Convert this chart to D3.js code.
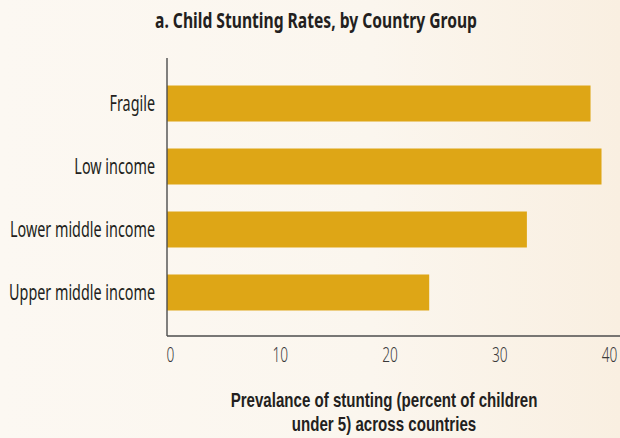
<!DOCTYPE html>
<html>
<head>
<meta charset="utf-8">
<script src="https://cdn.jsdelivr.net/npm/d3@7"></script>
<style>
  html, body { margin: 0; padding: 0; }
  body { width: 620px; height: 438px; overflow: hidden; }
  text { font-family: "Noto Sans", "Open Sans", sans-serif; fill: #231f20; }
</style>
</head>
<body>
<svg id="chart" width="620" height="438"></svg>
<script>
// data
const groups = ["Fragile", "Low income", "Lower middle income", "Upper middle income"];
const stunting = [38.5, 39.5, 32.7, 23.8];
const xTicks = [0, 10, 20, 30, 40];

const width = 620, height = 438;
const plotLeft = 167, plotTop = 60, plotBottom = 336;

const svg = d3.select("#chart");

// squeeze text horizontally (the original uses a condensed face)
function squeeze(sel, k, ax) {
  sel.attr("transform", "translate(" + ax + ",0) scale(" + k + ",1) translate(" + (-ax) + ",0)");
}

// background gradient
const defs = svg.append("defs");
const grad = defs.append("linearGradient").attr("id", "bg").attr("x1", "0").attr("x2", "1").attr("y1", "0").attr("y2", "0");
grad.append("stop").attr("offset", "0").attr("stop-color", "#fcf8f2");
grad.append("stop").attr("offset", "0.6").attr("stop-color", "#fbf6ee");
grad.append("stop").attr("offset", "1").attr("stop-color", "#f9efe1");
svg.append("rect").attr("width", width).attr("height", height).attr("fill", "url(#bg)");

const x = d3.scaleLinear().domain([0, 40]).range([168, 607]);
const y = d3.scaleBand().domain(groups).range([plotTop, plotBottom]).paddingInner(0.4286).paddingOuter(0.405);

// title
const title = svg.append("text")
  .attr("x", 316).attr("y", 28)
  .attr("text-anchor", "middle")
  .style("font-weight", "bold").style("font-size", "22px")
  .text("a. Child Stunting Rates, by Country Group");
squeeze(title, 322 / title.node().getComputedTextLength(), 316);

// bars
svg.append("g")
  .selectAll("rect")
  .data(groups).enter()
  .append("rect")
  .attr("x", plotLeft)
  .attr("y", function (d) { return y(d); })
  .attr("width", function (d, i) { return x(stunting[i]) - plotLeft; })
  .attr("height", y.bandwidth())
  .style("fill", "#dea616");

// category labels
const labels = svg.append("g")
  .selectAll("text")
  .data(groups).enter()
  .append("text")
  .attr("x", 155)
  .attr("y", function (d) { return y(d) + y.bandwidth() / 2; })
  .attr("dy", "0.36em")
  .attr("text-anchor", "end")
  .style("font-size", "21px")
  .text(function (d) { return d; });
var widest = d3.max(labels.nodes(), function (n) { return n.getComputedTextLength(); });
const kLab = 146 / widest;
squeeze(labels, kLab, 155);

// axis lines
svg.append("line")
  .attr("x1", plotLeft).attr("x2", plotLeft)
  .attr("y1", plotTop - 2).attr("y2", plotBottom)
  .style("stroke", "#4d4d4d").style("stroke-width", 1.4);
svg.append("line")
  .attr("x1", plotLeft).attr("x2", width)
  .attr("y1", plotBottom).attr("y2", plotBottom)
  .style("stroke", "#4d4d4d").style("stroke-width", 1.4);

// x tick labels
const xAxis = svg.append("g")
  .attr("transform", "translate(2," + plotBottom + ")")
  .call(d3.axisBottom(x).tickValues(xTicks).tickSize(0).tickPadding(12).tickFormat(d3.format("d")));
xAxis.select(".domain").remove();
xAxis.selectAll("text")
  .attr("dy", "0.72em")
  .style("font-family", "\"Noto Sans\", \"Open Sans\", sans-serif")
  .style("font-weight", "300")
  .style("font-size", "20px").style("fill", "#3a3a3a")
  .attr("transform", "scale(" + kLab + ",1)");

// axis title (two lines)
const titleLines = ["Prevalance of stunting (percent of children", "under 5) across countries"];
const xTitle = svg.append("g");
const tl = xTitle.selectAll("text")
  .data(titleLines).enter()
  .append("text")
  .attr("x", 384)
  .attr("y", function (d, i) { return 407 + i * 24; })
  .attr("text-anchor", "middle")
  .style("font-family", "\"Liberation Sans\", Arial, sans-serif")
  .style("font-weight", "bold").style("font-size", "20px")
  .text(function (d) { return d; });
squeeze(tl, 307 / tl.node().getComputedTextLength(), 384);
</script>
</body>
</html>
